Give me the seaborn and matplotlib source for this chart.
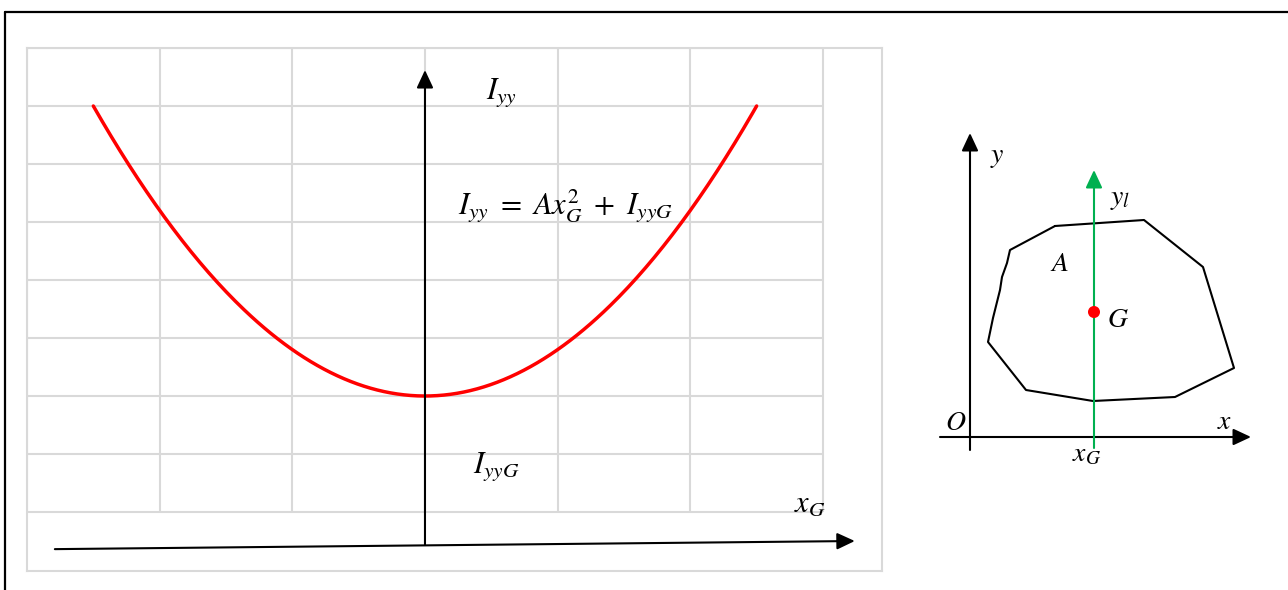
import numpy as np
import matplotlib
matplotlib.use("Agg")
import matplotlib.pyplot as plt
from matplotlib.lines import Line2D
import seaborn as sns

sns.set_style("white")
plt.rcParams["mathtext.fontset"] = "stix"
plt.rcParams["text.color"] = "black"

# left panel: I_yy = A * x_G^2 + I_yyG
A_area = 0.8
I_yyG = 2.0
xg_span = (-2.5, 2.5)
grid_cols = [-3, -2, -1, 0, 1, 2, 3]
grid_rows = [0, 1, 2, 3, 4, 5, 6, 7, 8]

# right panel: section outline, centroid
poly_u = [8.5, 17.4, 23.3, 26.4, 20.5, 12.3, 5.6, 1.8, 2.3, 3.0, 3.2, 3.7, 4.0]
poly_v = [21.1, 21.7, 17.0, 6.9, 4.0, 3.6, 4.7, 9.5, 11.9, 14.7, 16.0, 17.4, 18.7]
centroid = (12.4, 12.5)

GRID = "#d9d9d9"
GREEN = "#00b050"

fig = plt.figure(figsize=(12.88, 5.90), dpi=100)

# page border (top and left edges visible)
fig.add_artist(Line2D([5 / 1288, 1], [1 - 12 / 590, 1 - 12 / 590], color="k", lw=1.6))
fig.add_artist(Line2D([5 / 1288, 5 / 1288], [0, 1 - 12 / 590], color="k", lw=1.6))

# ---- left panel
ax = fig.add_axes([27 / 1288, 19 / 590, 855 / 1288, 523 / 590])
ax.set_xlim(-3.0, 3.445)
ax.set_ylim(-1.017, 8.0)
for s in ax.spines.values():
    s.set_color(GRID)
    s.set_linewidth(1.5)
ax.set_xticks([])
ax.set_yticks([])
ax.vlines(grid_cols, grid_rows[0], grid_rows[-1], color=GRID, lw=1.5, zorder=1)
ax.hlines(grid_rows, grid_cols[0], grid_cols[-1], color=GRID, lw=1.5, zorder=1)

xg = np.linspace(xg_span[0], xg_span[1], 300)
sns.lineplot(x=xg, y=A_area * xg ** 2 + I_yyG, sort=False, color="red", lw=2.5, ax=ax, zorder=3)

arrow = dict(arrowstyle="-|>,head_length=0.9,head_width=0.42", mutation_scale=12,
             lw=1.5, color="k", shrinkA=0, shrinkB=0)
ax.annotate("", xy=(0, 7.62), xytext=(0, -0.57), arrowprops=arrow, zorder=4)
ax.annotate("", xy=(3.24, -0.50), xytext=(-2.79, -0.64), arrowprops=arrow, zorder=4)

ax.text(0.58, 7.24, r"$I_{yy}$", fontsize=22, ha="center", va="center")
ax.text(1.063, 5.28, r"$I_{yy}\ =\ Ax_G^2\ +\ I_{yyG}$", fontsize=22, ha="center", va="center")
ax.text(0.54, 0.79, r"$I_{yyG}$", fontsize=22, ha="center", va="center")
ax.text(2.90, 0.155, r"$x_G$", fontsize=22, ha="center", va="center")

# ---- right panel
ax2 = fig.add_axes([930 / 1288, 120 / 590, 340 / 1288, 350 / 590])
ax2.set_xlim(-4, 30)
ax2.set_ylim(-3.3, 31.7)
ax2.axis("off")

ax2.plot(poly_u + poly_u[:1], poly_v + poly_v[:1], color="k", lw=1.5)
ax2.annotate("", xy=(0, 30.4), xytext=(0, -1.3), arrowprops=arrow)
ax2.annotate("", xy=(28.1, 0), xytext=(-3.0, 0), arrowprops=arrow)
green_arrow = dict(arrow, color=GREEN)
ax2.annotate("", xy=(centroid[0], 26.7), xytext=(centroid[0], -1.1), arrowprops=green_arrow)
sns.scatterplot(x=[centroid[0]], y=[centroid[1]], color="red", s=75, edgecolor="none", ax=ax2, zorder=5)

ax2.text(2.7, 28.1, r"$y$", fontsize=20, ha="center", va="center")
ax2.text(15.0, 23.9, r"$y_l$", fontsize=20, ha="center", va="center")
ax2.text(9.0, 17.4, r"$A$", fontsize=20, ha="center", va="center")
ax2.text(14.8, 11.8, r"$G$", fontsize=20, ha="center", va="center")
ax2.text(-1.4, 1.5, r"$O$", fontsize=20, ha="center", va="center")
ax2.text(25.5, 1.6, r"$x$", fontsize=20, ha="center", va="center")
ax2.text(11.7, -1.6, r"$x_G$", fontsize=20, ha="center", va="center")

fig.savefig("out.png", dpi=100)
